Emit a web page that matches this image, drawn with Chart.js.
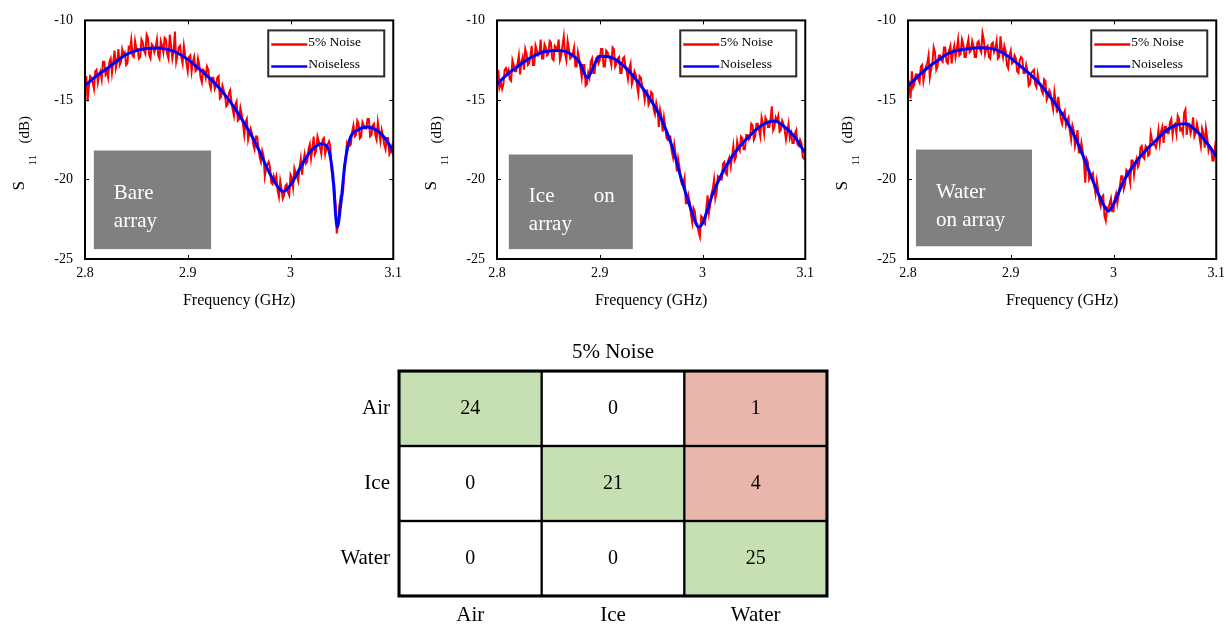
<!DOCTYPE html>
<html>
<head>
<meta charset="utf-8">
<script src="https://cdn.jsdelivr.net/npm/chart.js@4.4.1/dist/chart.umd.min.js"></script>
<style>
  html, body { margin: 0; padding: 0; background: #ffffff; }
  body { position: relative; width: 1228px; height: 626px; overflow: hidden; }
  canvas { position: absolute; }
  #panel1 { left: -2px; top: 0; }
  #panel2 { left: 410px; top: 0; }
  #panel3 { left: 821px; top: 0; }
  #matrix { left: 300px; top: 330px; }
</style>
</head>
<body>
<canvas id="panel1" width="410" height="320"></canvas>
<canvas id="panel2" width="410" height="320"></canvas>
<canvas id="panel3" width="410" height="320"></canvas>
<canvas id="matrix" width="626" height="296"></canvas>
<script>
const SERIF = "'Liberation Serif', 'Times New Roman', serif";

// ---- S11 sweeps (GHz / dB) ----
const freqTicks = [2.8, 2.9, 3.0, 3.1];
const s11Ticks = [-25, -20, -15, -10];
const NOISY_START = 2.8;    // noisy sweep sample grid
const NOISY_STEP = 0.00125;

// Bare array
const bareFreq = [2.80, 2.81, 2.82, 2.83, 2.84, 2.85, 2.86, 2.87, 2.88, 2.89, 2.90, 2.91, 2.92, 2.93, 2.94, 2.95, 2.96, 2.97, 2.98, 2.99, 2.993, 3.00, 3.01, 3.02, 3.03, 3.036, 3.041, 3.0455, 3.049, 3.053, 3.058, 3.065, 3.075, 3.085, 3.095, 3.10];
const bareNoiseless = [-14.1, -13.55, -13.1, -12.6, -12.15, -11.9, -11.76, -11.74, -11.82, -12.05, -12.45, -12.98, -13.55, -14.2, -15.0, -15.95, -17.0, -18.25, -19.65, -20.65, -20.75, -20.35, -19.2, -18.2, -17.75, -17.95, -19.6, -23.0, -21.5, -19.0, -17.4, -16.9, -16.7, -16.95, -17.7, -18.35];
const bareNoisy = [
  -14.5, -13.5, -15.1, -14.2, -13.5, -13.6, -13.9, -14.3, -13.2, -13.1,
  -13.9, -13.4, -13.2, -13.7, -12.6, -12.6, -13.4, -13.2, -13.6, -12.6,
  -12.4, -13.3, -12.6, -11.9, -13.0, -12.6, -11.8, -12.8, -12.6, -11.8,
  -12.1, -12.0, -12.8, -12.7, -11.7, -11.8, -11.2, -12.2, -12.3, -11.3,
  -11.8, -11.8, -12.4, -12.3, -11.2, -11.4, -11.9, -12.1, -10.9, -11.1,
  -12.2, -12.4, -11.5, -11.6, -12.0, -11.7, -11.2, -12.2, -12.4, -11.3,
  -11.6, -12.0, -11.1, -11.2, -12.1, -12.4, -10.9, -11.6, -12.4, -11.9,
  -10.7, -12.6, -12.2, -11.7, -11.6, -12.3, -12.7, -11.6, -12.2, -12.7,
  -13.2, -12.3, -12.2, -13.2, -12.6, -12.3, -13.2, -13.1, -12.4, -12.8,
  -13.6, -13.9, -13.1, -13.2, -13.6, -12.9, -13.1, -14.0, -14.3, -13.6,
  -13.6, -14.3, -14.1, -13.6, -13.5, -14.9, -14.8, -14.1, -14.4, -14.7,
  -15.4, -15.3, -14.6, -14.4, -15.1, -15.6, -16.0, -15.3, -15.1, -16.3,
  -16.2, -15.5, -15.9, -16.5, -17.2, -16.4, -16.2, -17.5, -17.1, -16.8,
  -17.1, -17.8, -18.1, -17.3, -17.3, -18.0, -18.6, -18.9, -18.2, -18.5,
  -19.8, -19.3, -19.1, -18.9, -19.2, -20.2, -20.3, -19.8, -20.1, -19.8,
  -20.7, -21.1, -20.1, -20.6, -21.2, -21.0, -20.4, -20.3, -20.8, -21.0,
  -19.7, -19.9, -20.5, -19.3, -19.6, -19.8, -20.1, -19.3, -18.7, -19.7,
  -18.9, -18.4, -19.0, -18.9, -18.1, -17.8, -18.7, -18.1, -17.3, -18.4,
  -18.2, -17.3, -17.6, -18.0, -18.4, -17.5, -17.4, -18.4, -18.0, -17.8,
  -17.6, -17.9, -19.4, -20.2, -20.3, -21.5, -23.4, -22.8, -21.7, -21.1,
  -21.2, -20.7, -19.2, -18.5, -17.7, -17.9, -17.9, -17.8, -17.0, -16.6,
  -17.3, -17.2, -16.3, -16.5, -17.4, -17.3, -16.4, -16.6, -16.8, -16.8,
  -16.2, -16.2, -17.3, -17.2, -16.6, -16.5, -17.2, -17.5, -16.4, -17.0,
  -17.6, -16.9, -17.3, -17.8, -18.1, -17.4, -17.4, -18.4, -18.2, -17.9,
  -18.5
];

// Ice on array
const iceFreq = [2.80, 2.81, 2.82, 2.83, 2.84, 2.85, 2.86, 2.87, 2.88, 2.888, 2.895, 2.90, 2.91, 2.92, 2.93, 2.94, 2.95, 2.96, 2.97, 2.98, 2.99, 2.996, 3.00, 3.01, 3.02, 3.03, 3.04, 3.05, 3.06, 3.07, 3.08, 3.09, 3.10];
const iceNoiseless = [-14.0, -13.4, -12.9, -12.45, -12.1, -11.93, -11.9, -12.05, -12.6, -13.6, -12.75, -12.25, -12.3, -12.68, -13.3, -14.1, -15.05, -16.2, -17.85, -20.1, -22.1, -23.0, -22.75, -20.9, -19.5, -18.45, -17.65, -17.0, -16.5, -16.33, -16.7, -17.35, -18.35];
const iceNoisy = [
  -14.6, -13.1, -14.2, -13.9, -14.3, -14.0, -13.1, -13.0, -13.3, -13.1,
  -13.7, -13.8, -12.5, -12.8, -13.2, -13.2, -12.7, -12.2, -13.4, -12.6,
  -12.3, -13.1, -11.8, -12.1, -12.8, -12.7, -12.3, -11.6, -12.8, -12.8,
  -11.6, -11.9, -12.2, -12.1, -11.2, -12.4, -12.4, -11.5, -11.7, -12.2,
  -12.1, -11.3, -11.4, -12.4, -12.5, -11.6, -11.7, -11.8, -11.2, -12.5,
  -12.2, -11.6, -11.0, -12.1, -12.5, -11.3, -11.8, -12.4, -12.3, -12.1,
  -11.7, -12.9, -12.9, -12.0, -12.4, -13.0, -13.6, -12.8, -12.8, -14.1,
  -14.0, -13.3, -13.6, -12.6, -12.4, -13.3, -13.3, -12.4, -12.3, -12.7,
  -12.5, -11.8, -11.8, -12.9, -12.9, -11.9, -12.0, -12.3, -12.4, -12.8,
  -11.7, -11.8, -12.9, -12.7, -12.4, -12.3, -13.3, -13.3, -12.4, -12.3,
  -12.9, -13.2, -13.7, -13.0, -12.7, -14.0, -13.7, -13.2, -13.4, -14.1,
  -14.6, -13.5, -13.6, -14.1, -14.4, -15.0, -14.4, -14.4, -15.3, -15.1,
  -14.5, -14.6, -15.6, -15.9, -15.2, -15.6, -16.7, -15.6, -16.0, -17.0,
  -16.1, -16.7, -17.4, -17.5, -17.3, -17.3, -18.2, -18.6, -17.8, -18.4,
  -19.5, -18.7, -19.2, -20.0, -20.3, -20.3, -19.9, -21.5, -21.5, -21.0,
  -21.4, -22.2, -22.7, -21.8, -22.0, -22.7, -22.8, -23.3, -23.6, -22.3,
  -22.4, -22.7, -22.8, -21.8, -21.0, -22.1, -21.6, -20.9, -20.6, -20.0,
  -21.2, -20.8, -19.8, -19.9, -20.0, -20.0, -19.0, -18.9, -19.6, -19.7,
  -18.8, -18.6, -19.2, -18.6, -17.9, -18.8, -18.6, -17.6, -18.0, -18.2,
  -17.3, -17.4, -18.1, -18.1, -17.2, -17.2, -17.5, -17.4, -16.5, -16.6,
  -17.5, -17.3, -16.5, -16.5, -16.9, -17.3, -16.1, -16.5, -17.1, -16.1,
  -16.3, -16.7, -16.7, -16.2, -15.4, -16.9, -16.7, -16.1, -16.3, -16.0,
  -17.0, -16.9, -16.3, -16.5, -16.9, -17.5, -17.0, -16.5, -17.4, -17.1,
  -17.7, -17.7, -17.1, -16.9, -17.8, -17.9, -17.5, -17.7, -18.6, -18.7,
  -18.3
];

// Water on array
const waterFreq = [2.80, 2.81, 2.82, 2.83, 2.84, 2.85, 2.86, 2.87, 2.88, 2.89, 2.90, 2.91, 2.92, 2.93, 2.94, 2.95, 2.96, 2.97, 2.98, 2.99, 2.995, 3.00, 3.01, 3.02, 3.03, 3.04, 3.05, 3.06, 3.07, 3.08, 3.09, 3.10];
const waterNoiseless = [-14.12, -13.5, -12.93, -12.47, -12.05, -11.86, -11.76, -11.72, -11.76, -11.96, -12.37, -12.9, -13.46, -14.12, -14.95, -15.88, -17.0, -18.45, -20.1, -21.55, -22.0, -21.55, -20.1, -19.07, -18.25, -17.63, -17.0, -16.6, -16.5, -16.9, -17.63, -18.55];
const waterNoisy = [
  -14.5, -14.1, -14.9, -13.2, -14.2, -14.0, -13.4, -13.4, -13.7, -13.9,
  -12.9, -12.8, -13.8, -13.3, -12.9, -12.7, -12.2, -13.6, -13.1, -12.7,
  -11.7, -12.0, -13.1, -12.9, -12.2, -12.2, -12.5, -12.6, -11.7, -11.7,
  -12.6, -12.7, -11.9, -11.6, -12.7, -12.0, -11.6, -12.3, -11.8, -11.2,
  -12.2, -12.1, -11.2, -11.5, -12.3, -12.3, -11.6, -11.2, -12.0, -11.9,
  -11.3, -11.6, -12.3, -12.3, -11.4, -11.3, -11.8, -12.0, -10.8, -11.2,
  -12.1, -11.7, -11.6, -12.3, -12.4, -11.5, -11.4, -12.0, -11.8, -11.3,
  -12.4, -12.3, -11.0, -11.8, -12.3, -11.6, -11.9, -12.8, -13.0, -12.2,
  -11.9, -12.7, -12.6, -12.2, -12.4, -13.2, -13.3, -12.5, -12.3, -12.4,
  -13.3, -13.3, -12.8, -13.2, -14.1, -14.0, -13.3, -13.2, -13.1, -14.0,
  -14.2, -13.4, -13.9, -14.0, -14.4, -14.6, -13.7, -13.8, -15.0, -14.8,
  -14.4, -14.6, -15.2, -15.6, -14.5, -15.1, -15.8, -14.8, -15.5, -16.2,
  -16.5, -15.9, -15.7, -16.6, -16.3, -16.1, -17.0, -17.5, -16.6, -16.9,
  -17.9, -17.5, -16.9, -18.3, -18.3, -17.7, -18.2, -18.9, -20.2, -18.7,
  -18.9, -20.0, -19.8, -19.7, -19.6, -20.4, -20.9, -20.1, -20.6, -21.4,
  -21.7, -21.1, -21.0, -22.3, -22.6, -21.8, -21.9, -21.5, -21.2, -22.0,
  -22.0, -21.2, -20.9, -21.5, -21.0, -20.4, -19.8, -19.8, -20.6, -20.3,
  -19.4, -19.5, -19.7, -20.2, -18.8, -18.8, -19.7, -19.0, -18.7, -19.2,
  -19.0, -18.0, -17.9, -18.6, -18.7, -17.9, -18.0, -18.5, -18.4, -17.1,
  -17.5, -17.8, -17.8, -18.0, -17.6, -16.9, -17.7, -17.0, -16.7, -17.7,
  -16.7, -16.7, -17.1, -17.1, -16.4, -16.2, -17.2, -16.6, -16.5, -17.1,
  -16.0, -16.2, -16.9, -16.8, -17.1, -15.8, -15.6, -17.2, -16.5, -16.5,
  -17.1, -16.8, -16.1, -17.3, -17.1, -16.5, -16.9, -17.4, -17.9, -16.8,
  -17.1, -18.0, -16.8, -17.4, -18.2, -17.9, -18.0, -18.8, -18.8, -18.0,
  -18.5
];

// ---- Confusion matrix ----
const matrixTitle = '5% Noise';
const classLabels = ['Air', 'Ice', 'Water'];
const countsAir = [24, 0, 1];
const countsIce = [0, 21, 4];
const countsWater = [0, 0, 25];
const confusionCounts = [countsAir, countsIce, countsWater];

const panels = [
  { id: 'panel1', freq: bareFreq, clean: bareNoiseless, noisy: bareNoisy,
    note: { x0: 2.8086, x1: 2.9227, y0: -18.18, y1: -24.38, lines: ['Bare', 'array'], justify: false } },
  { id: 'panel2', freq: iceFreq, clean: iceNoiseless, noisy: iceNoisy,
    note: { x0: 2.8115, x1: 2.9322, y0: -18.43, y1: -24.38, lines: ['Ice on', 'array'], justify: true } },
  { id: 'panel3', freq: waterFreq, clean: waterNoiseless, noisy: waterNoisy,
    note: { x0: 2.8077, x1: 2.9207, y0: -18.12, y1: -24.2, lines: ['Water', 'on array'], justify: false } }
];

Chart.defaults.font.family = SERIF;
Chart.defaults.color = '#000000';
Chart.defaults.animation = false;

// Frame with inward ticks, note box, legend box and S11 axis title (MATLAB look)
const sparamDecor = {
  id: 'sparamDecor',
  beforeDatasetsDraw(chart, args, opts) {
    const { ctx, scales: { x, y } } = chart;
    const note = opts.note;
    const left = x.getPixelForValue(note.x0);
    const right = x.getPixelForValue(note.x1);
    const top = y.getPixelForValue(note.y0);
    const bottom = y.getPixelForValue(note.y1);
    ctx.save();
    ctx.fillStyle = '#808080';
    ctx.fillRect(left, top, right - left, bottom - top);
    ctx.fillStyle = '#ffffff';
    ctx.font = '21px ' + SERIF;
    ctx.textBaseline = 'alphabetic';
    note.lines.forEach((line, i) => {
      const by = top + 48 + i * 28;
      const words = line.split(' ');
      if (note.justify && words.length > 1) {
        ctx.textAlign = 'left';
        ctx.fillText(words[0], left + 20, by);
        ctx.textAlign = 'right';
        ctx.fillText(words[words.length - 1], right - 18, by);
      } else {
        ctx.textAlign = 'left';
        ctx.fillText(line, left + 20, by);
      }
    });
    ctx.restore();
  },
  afterDatasetsDraw(chart) {
    const { ctx, chartArea: a, scales: { x, y } } = chart;
    ctx.save();
    ctx.strokeStyle = '#000000';
    ctx.lineWidth = 1;
    ctx.beginPath();
    x.ticks.forEach(t => {
      if (t.value <= x.min + 1e-9 || t.value >= x.max - 1e-9) return;
      const px = Math.round(x.getPixelForValue(t.value)) + 0.5;
      ctx.moveTo(px, a.bottom); ctx.lineTo(px, a.bottom - 4);
      ctx.moveTo(px, a.top); ctx.lineTo(px, a.top + 4);
    });
    y.ticks.forEach(t => {
      if (t.value <= y.min + 1e-9 || t.value >= y.max - 1e-9) return;
      const py = Math.round(y.getPixelForValue(t.value)) + 0.5;
      ctx.moveTo(a.left, py); ctx.lineTo(a.left + 4, py);
      ctx.moveTo(a.right, py); ctx.lineTo(a.right - 4, py);
    });
    ctx.stroke();
    ctx.lineWidth = 2;
    ctx.strokeRect(a.left, a.top, a.right - a.left, a.bottom - a.top);

    // legend box
    const bx = a.right - 125, by = a.top + 10, bw = 116, bh = 46;
    ctx.fillStyle = '#ffffff';
    ctx.fillRect(bx, by, bw, bh);
    ctx.strokeStyle = '#2b2b2b';
    ctx.strokeRect(bx, by, bw, bh);
    ctx.font = '13.5px ' + SERIF;
    ctx.textAlign = 'left';
    ctx.textBaseline = 'middle';
    chart.data.datasets.forEach((ds, i) => {
      const ly = by + 13 + i * 22;
      ctx.strokeStyle = ds.borderColor;
      ctx.lineWidth = 2.5;
      ctx.beginPath();
      ctx.moveTo(bx + 3, ly + 1); ctx.lineTo(bx + 39, ly + 1);
      ctx.stroke();
      ctx.fillStyle = '#000000';
      ctx.fillText(ds.label, bx + 40, ly - 1);
    });
    ctx.restore();
  },
  afterDraw(chart) {
    const { ctx, chartArea: a } = chart;
    ctx.save();
    ctx.fillStyle = '#000000';
    ctx.textAlign = 'left';
    ctx.textBaseline = 'alphabetic';
    const pieces = [
      { text: 'S', font: '17px ', x: a.left - 61, y: a.top + 170 },
      { text: '11', font: '11px ', x: a.left - 49, y: a.top + 145 },
      { text: '(dB)', font: '15px ', x: a.left - 56, y: a.top + 123 }
    ];
    pieces.forEach(p => {
      ctx.save();
      ctx.translate(p.x, p.y);
      ctx.rotate(-Math.PI / 2);
      ctx.font = p.font + SERIF;
      ctx.fillText(p.text, 0, 0);
      ctx.restore();
    });
    ctx.restore();
  }
};

function makePanel(panel) {
  const cleanPoints = panel.freq.map((f, i) => ({ x: f, y: panel.clean[i] }));
  const noisyPoints = panel.noisy.map((v, i) => ({ x: NOISY_START + i * NOISY_STEP, y: v }));
  new Chart(document.getElementById(panel.id), {
    type: 'line',
    data: {
      datasets: [
        { label: '5% Noise', data: noisyPoints, borderColor: '#ff0000', borderWidth: 2,
          pointRadius: 0, tension: 0, order: 2 },
        { label: 'Noiseless', data: cleanPoints, borderColor: '#0000ff', borderWidth: 3,
          pointRadius: 0, cubicInterpolationMode: 'monotone', order: 1 }
      ]
    },
    options: {
      responsive: false,
      layout: { padding: { top: 17, right: 10, left: 0, bottom: 0 } },
      plugins: {
        legend: { display: false },
        tooltip: { enabled: false },
        sparamDecor: { note: panel.note }
      },
      scales: {
        x: {
          type: 'linear', min: 2.8, max: 3.1,
          afterBuildTicks: s => { s.ticks = freqTicks.map(v => ({ value: v })); },
          afterFit: s => { s.height = 61; },
          grid: { display: false, drawTicks: false },
          border: { display: false },
          ticks: {
            padding: 6, font: { size: 14 }, color: '#000000', maxRotation: 0,
            callback: v => String(Number(v.toFixed(2)))
          },
          title: { display: true, text: 'Frequency (GHz)', font: { size: 16 }, color: '#000000',
            padding: { top: 0, bottom: 10 } }
        },
        y: {
          type: 'linear', min: -25, max: -10,
          afterBuildTicks: s => { s.ticks = s11Ticks.map(v => ({ value: v })); },
          afterFit: s => { s.width = 87; },
          grid: { display: false, drawTicks: false },
          border: { display: false },
          ticks: { padding: 12, font: { size: 14 }, color: '#000000' }
        }
      }
    },
    plugins: [sparamDecor]
  });
}

panels.forEach(makePanel);

// ---- confusion matrix as floating bars ----
const GREEN = '#c6e0b4';
const PINK = '#e8b6aa';

function cellColor(r, c, count) {
  if (r === c) return GREEN;
  return count > 0 ? PINK : '#ffffff';
}

const matrixDecor = {
  id: 'matrixDecor',
  afterDatasetsDraw(chart) {
    const { ctx, chartArea: a } = chart;
    ctx.save();
    ctx.fillStyle = '#000000';
    ctx.font = '20px ' + SERIF;
    ctx.textAlign = 'center';
    ctx.textBaseline = 'middle';
    chart.data.datasets.forEach((ds, r) => {
      chart.getDatasetMeta(r).data.forEach((el, c) => {
        ctx.fillText(String(confusionCounts[r][c]), el.x, (el.y + el.base) / 2);
      });
    });
    ctx.strokeStyle = '#000000';
    ctx.lineWidth = 3;
    ctx.strokeRect(a.left, a.top, a.right - a.left, a.bottom - a.top);
    // title centred over the grid
    ctx.font = '21px ' + SERIF;
    ctx.fillText(matrixTitle, (a.left + a.right) / 2, a.top - 19);
    ctx.restore();
  }
};

new Chart(document.getElementById('matrix'), {
  type: 'bar',
  data: {
    labels: classLabels,
    datasets: confusionCounts.map((row, r) => ({
      label: classLabels[r],
      data: row.map(() => [r, r + 1]),
      backgroundColor: row.map((v, c) => cellColor(r, c, v)),
      borderColor: '#000000',
      borderWidth: 1.5,
      borderSkipped: false,
      grouped: false,
      barPercentage: 1,
      categoryPercentage: 1
    }))
  },
  options: {
    responsive: false,
    layout: { padding: { left: 0, right: 99, top: 41, bottom: 0 } },
    plugins: {
      legend: { display: false },
      tooltip: { enabled: false },
      title: { display: false }
    },
    scales: {
      x: {
        afterFit: s => { s.height = 30; },
        grid: { display: false, drawTicks: false },
        border: { display: false },
        ticks: { padding: 7, font: { size: 21 }, color: '#000000' }
      },
      y: {
        type: 'linear', min: 0, max: 3, reverse: true,
        afterBuildTicks: s => { s.ticks = classLabels.map((_, i) => ({ value: i + 0.5 })); },
        afterFit: s => { s.width = 99; },
        grid: { display: false, drawTicks: false },
        border: { display: false },
        ticks: { padding: 9, font: { size: 21 }, color: '#000000',
          callback: v => classLabels[Math.floor(v)] }
      }
    }
  },
  plugins: [matrixDecor]
});
</script>
</body>
</html>
